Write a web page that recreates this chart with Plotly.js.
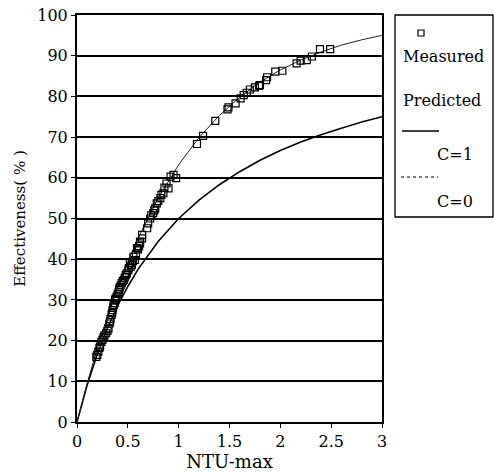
<!DOCTYPE html>
<html>
<head>
<meta charset="utf-8">
<script src="https://cdn.plot.ly/plotly-3.0.1.min.js"></script>
<style>html,body{margin:0;padding:0;background:#fff;}#chart{width:495px;height:475px;}</style>
</head>
<body>
<div id="chart"></div>
<script>
// Measured points (NTU-max, effectiveness %)
const measuredNTU = [0.19,0.20,0.21,0.22,0.227,0.24,0.25,0.26,0.27,0.286,0.30,0.31,0.32,0.325,0.33,0.34,0.345,0.35,0.355,0.36,0.37,0.375,0.38,0.39,0.40,0.41,0.415,0.42,0.43,0.44,0.45,0.46,0.47,0.48,0.49,0.505,0.51,0.52,0.53,0.54,0.55,0.555,0.57,0.58,0.59,0.60,0.61,0.62,0.64,0.62,0.64,0.69,0.70,0.72,0.73,0.75,0.76,0.77,0.785,0.80,0.82,0.83,0.85,0.86,0.88,0.90,0.92,0.95,0.975,1.18,1.24,1.36,1.48,1.49,1.56,1.61,1.64,1.67,1.70,1.75,1.79,1.80,1.86,1.87,1.95,2.02,2.16,2.20,2.26,2.31,2.39,2.49];
const measuredEff = [16,16.5,17.3,18.2,18.5,19.7,20.2,20.8,21.3,21.8,22.4,23,24.2,24.6,25.3,26.3,26.8,27.5,28.1,28.7,29.2,30,30.3,30.8,31.5,32,32.6,33.1,33.6,34.1,34.6,34.9,35.5,36.1,36.5,37.3,37.8,39,38.2,38.6,39.5,40.6,39.8,41.2,42.7,42.4,43.2,44.3,46,43.9,45.1,47.6,48.8,50,50.8,51.3,52,52.5,53.7,54.3,55,55.8,56.2,57.6,58.6,57.4,60.3,60.7,59.9,68.3,70.3,74,76.8,77.3,78.3,79.5,80.3,80.9,81.7,82.2,82.6,82.8,84,84.7,86.1,86.3,88.1,88.8,88.9,89.8,91.6,91.6];

// Predicted curves
const predNTU = [0,0.1,0.2,0.3,0.4,0.5,0.6,0.8,1.0,1.2,1.4,1.6,1.8,2.0,2.2,2.4,2.6,2.8,3.0];
const predC0 = [0,9.5,18.1,25.9,33,39.3,45.1,55.1,63.2,69.9,75.3,79.8,83.5,86.5,88.9,90.9,92.6,93.9,95.0];
const predC1 = [0,9.1,16.7,23.1,28.6,33.3,37.5,44.4,50,54.5,58.3,61.5,64.3,66.7,68.8,70.6,72.2,73.7,75.0];

const xTickVals = [0,0.5,1,1.5,2,2.5,3];
const xTickText = ['0','0.5','1','1.5','2','2.5','3'];
const yTickVals = [0,10,20,30,40,50,60,70,80,90,100];

const serif = 'DejaVu Serif';
const L = 77, R = 382, T = 15, B = 422, W = 495, H = 475;
const px = x => (x - L) / (R - L);
const py = y => (B - y) / (B - T);

const traces = [
  {x: predNTU, y: predC1, mode: 'lines', line: {color: '#000', width: 1.6}, hoverinfo: 'skip'},
  {x: predNTU, y: predC0, mode: 'lines', line: {color: '#222', width: 1}, hoverinfo: 'skip'},
  {x: measuredNTU, y: measuredEff, mode: 'markers',
   marker: {symbol: 'square-open', size: 7, color: '#000', line: {width: 1.2, color: '#000'}}}
];

const annFont = {family: serif, size: 16, color: '#000'};
const layout = {
  width: W, height: H,
  margin: {l: L, r: W - R, t: T, b: H - B},
  paper_bgcolor: '#fff', plot_bgcolor: '#fff',
  showlegend: false,
  font: {family: serif, size: 16, color: '#000'},
  xaxis: {
    range: [0, 3], tickvals: xTickVals, ticktext: xTickText,
    showgrid: false, zeroline: false, showline: true, mirror: true,
    linecolor: '#000', linewidth: 2, ticks: 'outside', ticklen: 4, tickcolor: '#000',
    tickfont: {family: serif, size: 16},
    title: {text: 'NTU-max', font: {family: serif, size: 18}, standoff: 3}
  },
  yaxis: {
    range: [0, 100], tickvals: yTickVals,
    showgrid: true, gridcolor: '#000', gridwidth: 2, zeroline: false,
    showline: true, mirror: true, linecolor: '#000', linewidth: 2,
    ticks: 'outside', ticklen: 4, tickcolor: '#000',
    tickfont: {family: serif, size: 16},
    title: {text: 'Effectiveness( % )', font: {family: serif, size: 15}, standoff: 8}
  },
  shapes: [
    {type: 'rect', xref: 'paper', yref: 'paper', x0: px(395), x1: px(493), y0: py(217), y1: py(15),
     line: {color: '#000', width: 1.3}},
    {type: 'rect', xref: 'paper', yref: 'paper', x0: px(418), x1: px(424), y0: py(36), y1: py(30),
     line: {color: '#000', width: 1.2}},
    {type: 'line', xref: 'paper', yref: 'paper', x0: px(402), x1: px(439), y0: py(131), y1: py(131),
     line: {color: '#000', width: 1.6}},
    {type: 'line', xref: 'paper', yref: 'paper', x0: px(401), x1: px(438), y0: py(177), y1: py(177),
     line: {color: '#000', width: 1, dash: 'dot'}}
  ],
  annotations: [
    {xref: 'paper', yref: 'paper', x: px(401), y: py(57), xanchor: 'left', yanchor: 'middle', showarrow: false, text: 'Measured', font: annFont},
    {xref: 'paper', yref: 'paper', x: px(401), y: py(101), xanchor: 'left', yanchor: 'middle', showarrow: false, text: 'Predicted', font: annFont},
    {xref: 'paper', yref: 'paper', x: px(435), y: py(155), xanchor: 'left', yanchor: 'middle', showarrow: false, text: 'C=1', font: annFont},
    {xref: 'paper', yref: 'paper', x: px(435), y: py(201), xanchor: 'left', yanchor: 'middle', showarrow: false, text: 'C=0', font: annFont}
  ]
};

Plotly.newPlot('chart', traces, layout, {staticPlot: true, displayModeBar: false});
</script>
</body>
</html>
